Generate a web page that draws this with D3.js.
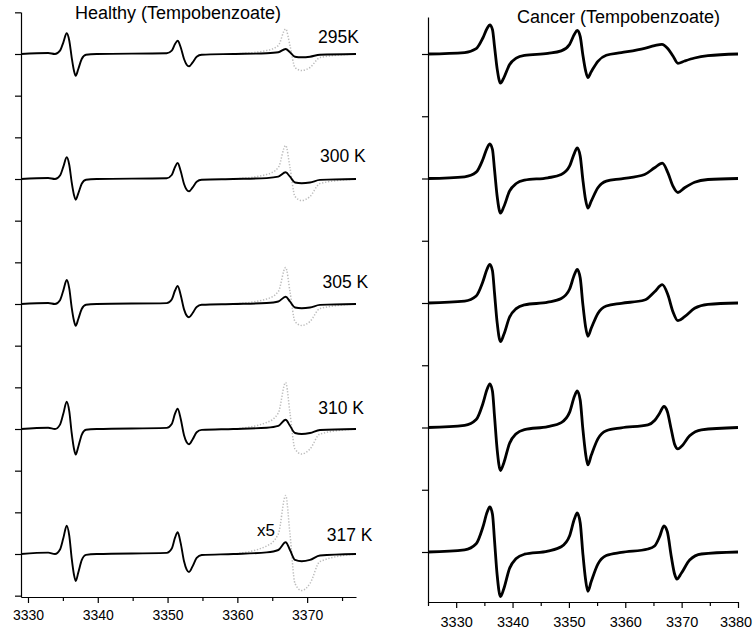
<!DOCTYPE html>
<html>
<head>
<meta charset="utf-8">
<script src="https://cdn.jsdelivr.net/npm/d3@7"></script>
<style>
  html, body { margin: 0; padding: 0; background: #fff; }
  svg { display: block; font-family: "Liberation Sans", Arial, Helvetica, sans-serif; }
</style>
</head>
<body>
<svg id="chart" width="753" height="632"></svg>
<script>
// ---- Field axis ticks (G) ----
const healthyMajorTicks = [3330, 3340, 3350, 3360, 3370];
const healthyMinorTicks = [3335, 3345, 3355, 3365, 3375];
const cancerMajorTicks = [3330, 3340, 3350, 3360, 3370, 3380];
const cancerMinorTicks = [3325, 3335, 3345, 3355, 3365, 3375];

// ---- Temperatures, top to bottom ----
const temperatures = ["295K", "300 K", "305 K", "310 K", "317 K"];
const healthyOffsets = [500, 375, 250, 125, 0];
const cancerOffsets = [498, 373.5, 249, 124.5, 0];

// Third-line magnification shown as dotted trace
const zoomFactor = 5;

// ---- Healthy tissue spectra (shared field grid, a.u.) ----
const healthyField = [3329, 3332.9, 3333.87, 3334.59, 3335.07, 3335.55, 3335.92, 3336.26, 3336.59, 3336.84,
  3337.21, 3337.7, 3338.31, 3339.85, 3349.88, 3350.6, 3351.07, 3351.45, 3351.88, 3352.36,
  3352.74, 3353.07, 3353.6, 3354.17, 3354.89, 3359.42, 3364.2, 3365.87, 3366.92, 3367.54,
  3368.26, 3369.22, 3370.41, 3371.84, 3377];
const healthy295 = [0, 1, 0, 3.3, 11.7, 20.7, 13.3, -3.3, -16.7, -21.7,
  -15, -5, -0.7, 0, 0.7, 3.3, 10, 13.3, 6.7, -5,
  -10.7, -12.3, -8.3, -2.7, -0.7, 0, 0.7, 1.7, 5, 1.7,
  -2.7, -3.3, -2.7, -0.7, 0];
const healthy300 = [0, 1, 0, 3.5, 12.3, 21.7, 14, -3.1, -15.9, -20.7,
  -14.3, -4.8, -0.7, 0, 0.8, 4, 12, 16, 8, -5,
  -10.7, -12.3, -8.3, -2.7, -0.7, 0, 0.9, 2.3, 6.7, 2.3,
  -3.5, -4.3, -3.5, -0.9, 0];
const healthy305 = [0, 1, 0, 3.8, 13.6, 24, 15.4, -3.3, -16.7, -21.7,
  -15, -5, -0.7, 0, 0.9, 4.5, 13.5, 18, 9, -5.4,
  -11.6, -13.3, -9, -2.9, -0.8, 0, 1, 2.5, 7.3, 2.5,
  -3.5, -4.3, -3.5, -0.9, 0];
const healthy310 = [0, 1.2, 0, 4.4, 15.4, 27.3, 17.6, -3.9, -19.7, -25.6,
  -17.7, -5.9, -0.8, 0, 1.1, 5, 15.3, 20.3, 10.3, -6.2,
  -13.3, -15.3, -10.3, -3.3, -0.9, 0, 1.3, 3.2, 9.3, 3.2,
  -4, -5, -4, -1, 0];
const healthy317 = [0, 1.4, 0, 4.5, 16, 28.3, 18.2, -4.1, -20.7, -27,
  -18.6, -6.2, -0.9, 0, 1.1, 5.4, 16.3, 21.7, 10.9, -7.3,
  -15.6, -18, -12.1, -3.9, -1, 0, 1.6, 4, 11.7, 4,
  -5.9, -7.3, -5.9, -1.5, 0];

// ---- Cancer tissue spectra ([field G, signal a.u.]) ----
const cancer295 = [[3325,0],[3331.5,1.4],[3333.55,5.3],[3334.73,16],[3335.5,25.8],[3335.97,29],[3336.44,24.4],[3336.8,7.6],
  [3337.27,-14.9],[3337.86,-29.2],[3338.45,-23.8],[3339.46,-10.7],[3340.65,-4.2],[3342.12,-1.4],[3346.26,0.6],
  [3348.64,3.1],[3350.11,9.6],[3351.0,20],[3351.48,23.5],[3352.01,17.4],[3352.47,-0.8],[3352.95,-16.4],[3353.36,-23.5],
  [3353.96,-17.7],[3355.14,-7.3],[3356.63,-1.3],[3359.29,1.3],[3363.43,5.7],[3365.2,8.3],[3366.5,9.7],[3367.57,5.3],
  [3368.46,-2],[3369.34,-9.3],[3370.53,-7],[3372.3,-4],[3374.67,-1.7],[3380,0]];
const cancer300 = [[3325,0],[3331.5,1.7],[3333.55,6.3],[3334.73,19],[3335.5,30.7],[3335.97,34.7],[3336.44,29],[3336.8,9],
  [3337.27,-17.7],[3337.86,-34.7],[3338.45,-28.3],[3339.46,-12.7],[3340.65,-5],[3342.12,-1.7],[3346.26,0.7],
  [3348.64,4],[3350.11,12.3],[3351.0,25.7],[3351.48,30.7],[3352.01,22.3],[3352.47,-1],[3352.95,-21],[3353.36,-29.7],
  [3353.96,-22.7],[3355.14,-9.3],[3356.63,-2.7],[3359.29,-0.3],[3363.43,4],[3365.2,10.7],[3366.57,15.3],[3367.57,5.7],
  [3368.46,-7.7],[3369.34,-14],[3370.53,-9.3],[3372.3,-3.7],[3374.67,-1],[3380,0]];
const cancer305 = [[3325,0],[3331.5,1.9],[3333.55,7],[3334.73,21.2],[3335.5,34.2],[3335.97,38.7],[3336.44,32.3],[3336.8,10],
  [3337.27,-19.7],[3337.86,-38.7],[3338.45,-31.6],[3339.46,-14.2],[3340.65,-5.6],[3342.12,-1.9],[3346.26,0.8],
  [3348.64,4.5],[3350.11,13.7],[3351.0,28.7],[3351.48,33.7],[3352.01,24.9],[3352.47,-1.1],[3352.95,-23.4],[3353.36,-33.3],
  [3353.96,-25.3],[3355.14,-10.4],[3356.63,-3],[3359.29,-0.3],[3363.43,3],[3365.2,11.3],[3366.57,18.3],[3367.57,8],
  [3368.46,-8.7],[3369.34,-17.7],[3370.53,-13.7],[3372.3,-5.3],[3374.67,-1.3],[3380,0]];
const cancer310 = [[3325,0],[3331.5,2.1],[3333.55,7.9],[3334.73,23.8],[3335.5,38.4],[3335.97,43.7],[3336.44,36.3],[3336.8,11.3],
  [3337.27,-22.1],[3337.86,-43],[3338.45,-35.4],[3339.46,-15.9],[3340.65,-6.3],[3342.12,-2.1],[3346.26,0.9],
  [3348.64,4.9],[3350.11,15.1],[3351.0,31.5],[3351.48,36.7],[3352.01,27.3],[3352.47,-1.2],[3352.95,-25.7],[3353.36,-37.3],
  [3353.96,-27.8],[3355.14,-11.4],[3356.63,-3.3],[3359.29,-0.4],[3364.02,2.7],[3365.2,7],[3366.09,14.3],[3366.86,21],
  [3367.46,16],[3368.17,-2.3],[3368.75,-16.7],[3369.34,-21.3],[3369.94,-19],[3371.42,-8.3],[3373.5,-2.3],[3380,0]];
const cancer317 = [[3325,0],[3331.5,2.2],[3333.55,8.2],[3334.73,24.7],[3335.5,39.9],[3335.97,45],[3336.44,37.7],[3336.8,11.7],
  [3337.27,-23],[3337.86,-44.7],[3338.45,-36.8],[3339.46,-16.5],[3340.65,-6.5],[3342.12,-2.2],[3346.26,0.9],
  [3348.64,5.2],[3350.11,16],[3351.0,33.4],[3351.48,39],[3352.01,29],[3352.47,-1.3],[3352.95,-27.3],[3353.36,-39.3],
  [3353.96,-29.5],[3355.14,-12.1],[3356.63,-3.5],[3359.29,-0.4],[3364.02,3],[3365.2,6],[3366.09,15.3],[3366.86,26],
  [3367.46,20.3],[3368.17,-4.7],[3368.75,-22],[3369.16,-27],[3369.94,-21.3],[3371.42,-8],[3373.5,-2],[3380,0]];

const healthySeries = [healthy295, healthy300, healthy305, healthy310, healthy317]
  .map(vals => healthyField.map((f, i) => [f, vals[i]]));
const cancerSeries = [cancer295, cancer300, cancer305, cancer310, cancer317];

// ---- Drawing ----
const svg = d3.select("#chart");
svg.append("rect").attr("width", 753).attr("height", 632).attr("fill", "#fff");

function drawAxes(g, x, y, cfg) {
  const xBase = y.range()[0];
  const xMinor = g.append("g")
    .attr("transform", `translate(0,${xBase})`)
    .call(d3.axisBottom(x).tickValues(cfg.minor).tickSize(4).tickSizeOuter(0).tickFormat(""));
  xMinor.select(".domain").remove();

  const xMajor = g.append("g")
    .attr("transform", `translate(0,${xBase})`)
    .call(d3.axisBottom(x).tickValues(cfg.major).tickSize(6).tickSizeOuter(0)
      .tickPadding(cfg.pad).tickFormat(d3.format("d")));
  xMajor.attr("font-family", null).attr("font-size", cfg.fontSize);
  xMajor.selectAll("text").attr("fill", "#000");
  // keep the last field label inside the page edge
  if (cfg.lastShift) xMajor.selectAll(".tick:last-of-type text").attr("dx", cfg.lastShift);

  g.append("g")
    .attr("transform", `translate(${x.range()[0]},0)`)
    .call(d3.axisLeft(y).tickValues(cfg.yTicks).tickSize(6).tickSizeOuter(0).tickFormat(""));

  g.selectAll(".domain, .tick line").attr("stroke", "#000").attr("stroke-width", 1.2);
}

// Healthy panel
(function () {
  const x = d3.scaleLinear().domain([3329, 3377]).range([21, 356]);
  const y = d3.scaleLinear().domain([-43, 542]).range([597, 12]);
  const g = svg.append("g");
  drawAxes(g, x, y, {
    major: healthyMajorTicks, minor: healthyMinorTicks, pad: 7.5, fontSize: 14,
    yTicks: d3.range(-1, 14).map(k => k * 125 / 3)
  });

  healthySeries.forEach((pts, i) => {
    const off = healthyOffsets[i];
    const line = d3.line().x(d => x(d[0])).y(d => y(off + d[1])).curve(d3.curveMonotoneX);
    const zoomed = pts.filter(d => d[0] >= 3359.4).map(d => [d[0], d[1] * zoomFactor]);
    g.append("path").attr("d", line(zoomed))
      .attr("fill", "none").attr("stroke", "#bcbcbc").attr("stroke-width", 1.5)
      .attr("stroke-dasharray", "1.3,1.7");
    g.append("path").attr("d", line(pts))
      .attr("fill", "none").attr("stroke", "#000").attr("stroke-width", 1.9)
      .attr("stroke-linejoin", "round");
  });

  const labelAt = [[3371.56, 11], [3371.85, 17], [3372.2, 15.7], [3371.6, 15], [3372.8, 13.3]];
  temperatures.forEach((t, i) => {
    g.append("text").attr("x", x(labelAt[i][0])).attr("y", y(healthyOffsets[i] + labelAt[i][1]))
      .attr("font-size", 17.5).attr("fill", "#000").text(t);
  });
  g.append("text").attr("x", x(3362.8)).attr("y", y(18.3))
    .attr("font-size", 17).attr("fill", "#000").text("x" + zoomFactor);
  g.append("text").attr("x", x(3351.5)).attr("y", 19.3).attr("text-anchor", "middle")
    .attr("font-size", 18).attr("fill", "#000").text("Healthy (Tempobenzoate)");
})();

// Cancer panel
(function () {
  const x = d3.scaleLinear().domain([3325, 3380]).range([428, 738]);
  const y = d3.scaleLinear().domain([-50, 535]).range([602, 17]);
  const g = svg.append("g");
  drawAxes(g, x, y, {
    major: cancerMajorTicks, minor: cancerMinorTicks, pad: 9, fontSize: 14.5, lastShift: -2.5,
    yTicks: d3.range(0, 9).map(k => k * 62.25)
  });

  cancerSeries.forEach((pts, i) => {
    const off = cancerOffsets[i];
    const line = d3.line().x(d => x(d[0])).y(d => y(off + d[1])).curve(d3.curveMonotoneX);
    g.append("path").attr("d", line(pts))
      .attr("fill", "none").attr("stroke", "#000").attr("stroke-width", 2.8)
      .attr("stroke-linejoin", "round");
  });

  g.append("text").attr("x", x(3358.8)).attr("y", 22.7).attr("text-anchor", "middle")
    .attr("font-size", 18).attr("fill", "#000").text("Cancer (Tempobenzoate)");
})();
</script>
</body>
</html>
